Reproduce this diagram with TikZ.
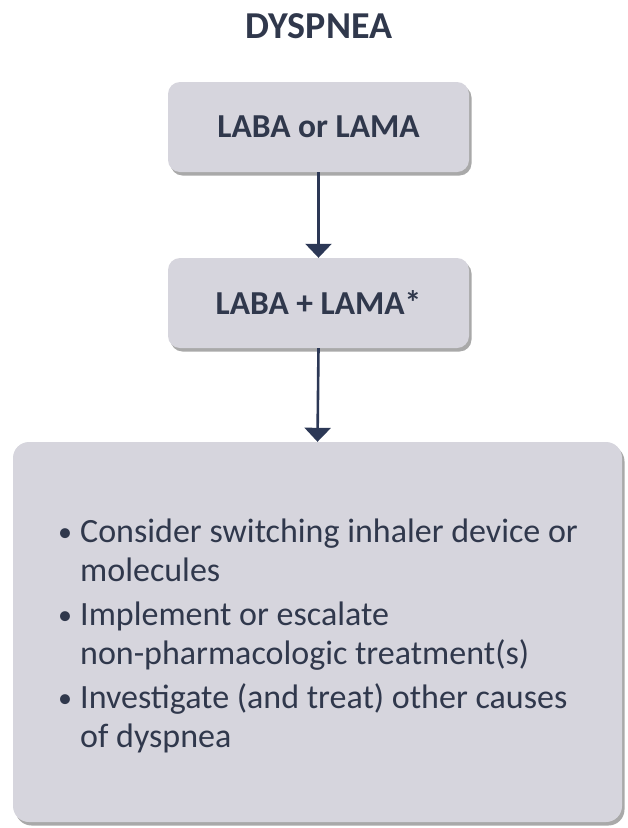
\documentclass[tikz,border=0pt]{standalone}
\usepackage{fontspec}
\setmainfont{Carlito}
\usetikzlibrary{shadows,arrows.meta}
\definecolor{navy}{RGB}{48,56,76}
\definecolor{boxfill}{RGB}{214,213,221}
\definecolor{arrowcol}{RGB}{44,56,86}
\newcommand{\mybul}{\makebox[23pt][l]{\hspace{1pt}\raisebox{1pt}{\fontsize{28}{28}\selectfont•}}}
\begin{document}
\begin{tikzpicture}[x=1pt,y=-1pt,
  box/.style={fill=boxfill, rounded corners=12pt,
    drop shadow={shadow xshift=2.5pt, shadow yshift=-3.5pt, opacity=0.45, fill=black!75},
    text=navy, font=\bfseries\fontsize{33.5}{38}\selectfont},
  conn/.style={draw=arrowcol, line width=2.6pt, -{Triangle[width=26pt,length=14pt]}},
  lst/.style={anchor=base west, inner sep=0pt, text=navy, font=\fontsize{34}{39}\selectfont},
  ttl/.style={anchor=base, inner sep=0pt, text=navy, font=\bfseries\fontsize{38}{44}\selectfont}
]
\useasboundingbox (0,0) rectangle (628,828);
\node[ttl] (title) at (319,38) {DYSPNEA};
\node[box, minimum width=301pt, minimum height=90pt] (b1) at (318.5,127) {LABA or LAMA};
\node[box, minimum width=301pt, minimum height=90pt] (b2) at (318.5,303) {LABA + LAMA*};
\node[box, rounded corners=16pt, minimum width=609pt, minimum height=380pt] (b3) at (317.5,632) {};
\draw[conn] (b1.south) -- (b2.north);
\draw[conn] (b2.south) -- (b3.north);
\node[lst] (l1) at (57,542) {\mybul Consider switching inhaler device or};
\node[lst] (l2) at (80,581) {molecules};
\node[lst] (l3) at (57,625) {\mybul Implement or escalate};
\node[lst] (l4) at (80,664) {non-pharmacologic treatment(s)};
\node[lst] (l5) at (57,708) {\mybul Investigate (and treat) other causes};
\node[lst] (l6) at (80,747) {of dyspnea};
\end{tikzpicture}
\end{document}
